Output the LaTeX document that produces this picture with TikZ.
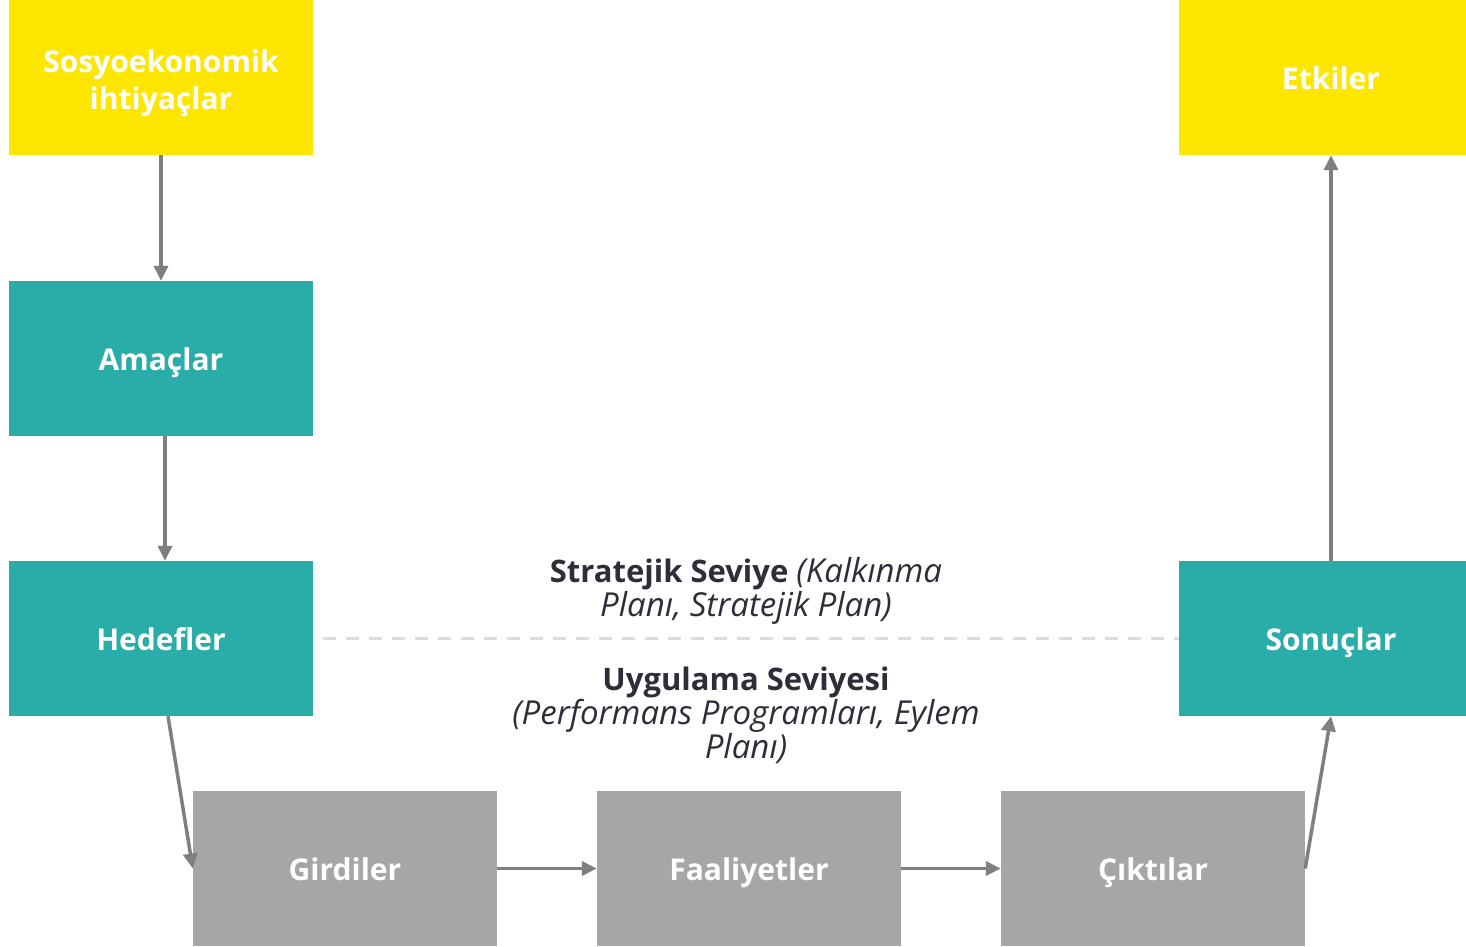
\documentclass[tikz,border=0pt]{standalone}
\usepackage{fontspec}
\setmainfont{Open Sans}
\usetikzlibrary{arrows.meta,calc}
\definecolor{eyyellow}{HTML}{FFE600}
\definecolor{eyteal}{HTML}{2AACA8}
\definecolor{eygray}{HTML}{A6A6A6}
\definecolor{arrowgray}{HTML}{7F7F7F}
\definecolor{dashgray}{HTML}{DCDCDC}
\definecolor{txtdark}{HTML}{2E2E38}
\newcommand{\bfd}[1]{{\fontsize{31}{32.5}\selectfont\bfseries #1}}
\newcommand{\itd}[1]{{\fontsize{33}{32.5}\selectfont\itshape #1}}
\tikzset{
  boxfont/.style={text=white, align=center, font=\fontsize{30}{38}\selectfont\bfseries},
  box/.style={boxfont, minimum width=304pt, minimum height=155pt, inner sep=0pt},
  one/.style={text height=23.5pt, text depth=0pt},
  ybox/.style={box, fill=eyyellow},
  tbox/.style={box, fill=eyteal},
  gbox/.style={box, fill=eygray},
  conn/.style={draw=arrowgray, line width=3.5pt, -{Triangle[length=15pt,width=14pt]}},
  desc/.style={text=txtdark, align=center, font=\fontsize{31}{32.5}\selectfont},
}
\begin{document}
\begin{tikzpicture}[x=1pt,y=-1pt]
\clip (0,0) rectangle (1466,947);
\fill[white] (0,0) rectangle (1466,947);
\node[ybox] (sos) at (161,77.5) {};
\node[boxfont, inner sep=0pt] (sostxt) at (161,83) {Sosyoekonomik\\[-1pt]ihtiyaçlar};
\node[ybox, one] (etk) at (1331,77.5) {Etkiler};
\node[tbox, one] (ama) at (161,358.5) {Amaçlar};
\node[tbox, one] (hed) at (161,638.5) {Hedefler};
\node[tbox, one] (son) at (1331,638.5) {Sonuçlar};
\node[gbox, one] (gir) at (345,868.5) {Girdiler};
\node[gbox, one] (faa) at (749,868.5) {Faaliyetler};
\node[gbox, one] (cik) at (1153,868.5) {Çıktılar};
\coordinate (dashL) at (323,638.5);
\draw[dashgray, line width=3pt, dash pattern=on 13pt off 10pt] (dashL) -- (son.west);
\node[desc] (strat) at (746,591) {\bfd{Stratejik Seviye} \itd{(Kalkınma}\\\itd{Planı, Stratejik Plan)}};
\node[desc] (uyg) at (746,715) {\bfd{Uygulama Seviyesi}\\\itd{(Performans Programları, Eylem}\\\itd{Planı)}};
\draw[conn] (sos.south) -- (ama.north);
\draw[conn] ($(ama.south)+(4,0)$) -- ($(hed.north)+(4,0)$);
\draw[conn] ($(hed.south)+(7,0)$) -- (gir.west);
\draw[conn] (gir.east) -- (faa.west);
\draw[conn] (faa.east) -- (cik.west);
\draw[conn] (cik.east) -- (son.south);
\draw[conn] (son.north) -- (etk.south);
\end{tikzpicture}
\end{document}
